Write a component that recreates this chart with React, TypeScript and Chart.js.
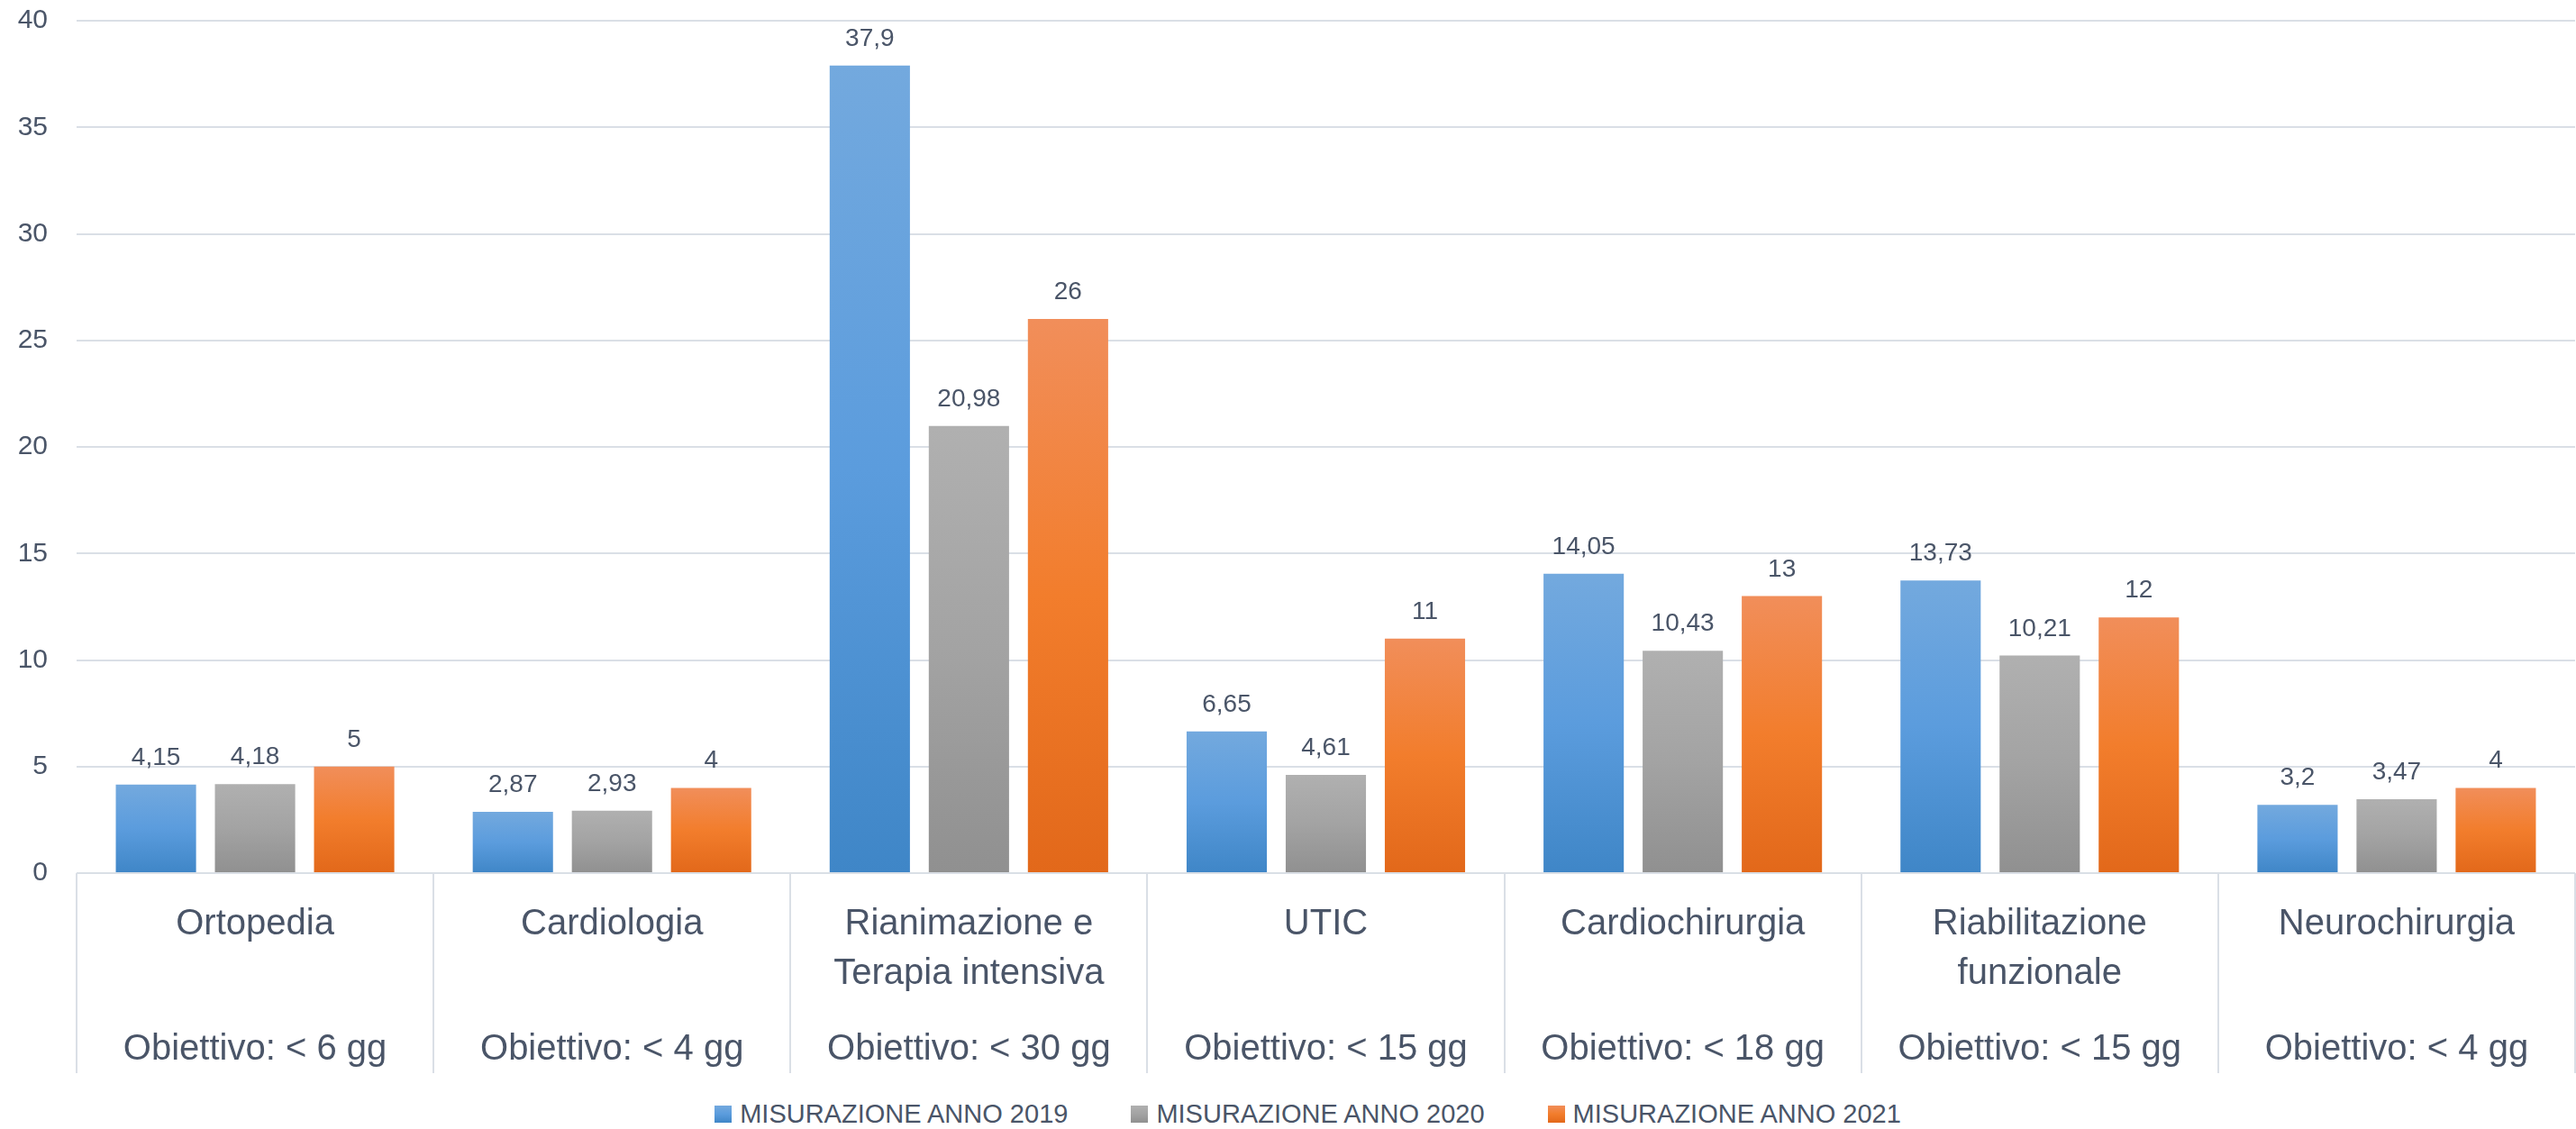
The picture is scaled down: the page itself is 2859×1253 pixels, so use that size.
import React, { useEffect, useRef } from "react";
import { Chart, registerables } from "chart.js";

Chart.register(...registerables);

// ---- data ----
const categoryLines: string[][] = [
  ["Ortopedia", ""],
  ["Cardiologia", ""],
  ["Rianimazione e", "Terapia intensiva"],
  ["UTIC", ""],
  ["Cardiochirurgia", ""],
  ["Riabilitazione", "funzionale"],
  ["Neurochirurgia", ""],
];
const goalLabels: string[] = [
  "Obiettivo: < 6 gg",
  "Obiettivo: < 4 gg",
  "Obiettivo: < 30 gg",
  "Obiettivo: < 15 gg",
  "Obiettivo: < 18 gg",
  "Obiettivo: < 15 gg",
  "Obiettivo: < 4 gg",
];
const values2019: number[] = [4.15, 2.87, 37.9, 6.65, 14.05, 13.73, 3.2];
const values2020: number[] = [4.18, 2.93, 20.98, 4.61, 10.43, 10.21, 3.47];
const values2021: number[] = [5, 4, 26, 11, 13, 12, 4];
const seriesNames: string[] = [
  "MISURAZIONE ANNO 2019",
  "MISURAZIONE ANNO 2020",
  "MISURAZIONE ANNO 2021",
];
const yMin = 0;
const yMax = 40;
const yStep = 5;

// ---- styles ----
const FONT = "'Liberation Sans', Arial, sans-serif";
const TEXT = "#4a5568";
const GRID = "#dadfe6";
const gradients: string[][] = [
  ["#73a9de", "#5b9cdd", "#3f86c7"],
  ["#b0b0b0", "#a3a3a3", "#909090"],
  ["#f18e5a", "#f27d2c", "#e2681a"],
];

const fill = (stops: string[]) => (ctx: any) => {
  const chart = ctx.chart;
  if (!chart.chartArea || ctx.type !== "data" || !chart.scales?.y) return stops[1];
  const y = chart.scales.y;
  const v = ctx.parsed ? ctx.parsed.y : ctx.raw;
  const top = y.getPixelForValue(v);
  const base = y.getPixelForValue(0);
  if (!isFinite(top) || !isFinite(base) || top === base) return stops[1];
  const g = chart.ctx.createLinearGradient(0, top, 0, base);
  g.addColorStop(0, stops[0]);
  g.addColorStop(0.5, stops[1]);
  g.addColorStop(1, stops[2]);
  return g;
};

const dividerPlugin = {
  id: "dividers",
  afterDraw(chart: any) {
    const x = chart.scales.x;
    const x2 = chart.scales.x2;
    if (!x || !x2) return;
    const n = categoryLines.length;
    const step = (x.right - x.left) / n;
    const c = chart.ctx;
    c.save();
    c.strokeStyle = GRID;
    c.lineWidth = 2;
    for (let i = 0; i <= n; i++) {
      const px = Math.round(x.left + i * step);
      c.beginPath();
      c.moveTo(px, chart.chartArea.bottom);
      c.lineTo(px, x2.bottom);
      c.stroke();
    }
    c.restore();
  },
};

const valueLabelPlugin = {
  id: "valueLabels",
  afterDatasetsDraw(chart: any) {
    const c = chart.ctx;
    c.save();
    c.font = `28px ${FONT}`;
    c.fillStyle = TEXT;
    c.textAlign = "center";
    c.textBaseline = "alphabetic";
    chart.data.datasets.forEach((ds: any, di: number) => {
      const meta = chart.getDatasetMeta(di);
      meta.data.forEach((bar: any, i: number) => {
        const v = ds.data[i];
        c.fillText(String(v).replace(".", ","), bar.x, bar.y - 22);
      });
    });
    c.restore();
  },
};

export default function App() {
  const canvasRef = useRef<HTMLCanvasElement | null>(null);

  useEffect(() => {
    if (!canvasRef.current) return;
    const chart = new Chart(canvasRef.current, {
      type: "bar",
      data: {
        labels: categoryLines,
        datasets: [values2019, values2020, values2021].map((vals, i) => ({
          label: seriesNames[i],
          data: vals,
          backgroundColor: fill(gradients[i]),
          borderWidth: 0,
          categoryPercentage: 0.833,
          barPercentage: 0.81,
        })),
      },
      options: {
        animation: false,
        responsive: true,
        maintainAspectRatio: false,
        devicePixelRatio: 1,
        layout: { padding: { top: 23, left: 20, right: 1, bottom: 9 } },
        plugins: {
          legend: { display: false },
          tooltip: { enabled: false },
        },
        scales: {
          y: {
            min: yMin,
            max: yMax,
            ticks: {
              stepSize: yStep,
              color: TEXT,
              font: { family: FONT, size: 30, lineHeight: 1.2 },
              padding: 0,
            },
            grid: {
              color: GRID,
              lineWidth: 2,
              drawTicks: true,
              tickLength: 32,
              tickColor: "rgba(0,0,0,0)",
            },
            border: { display: false },
            afterFit: (s: any) => {
              s.width = 65;
            },
          },
          x: {
            type: "category",
            offset: true,
            weight: 0,
            ticks: {
              color: TEXT,
              font: { family: FONT, size: 40, lineHeight: 1.375 },
              padding: 29,
              autoSkip: false,
              maxRotation: 0,
              minRotation: 0,
            },
            grid: { display: false, drawTicks: false },
            border: { display: false },
            afterFit: (s: any) => {
              s.height = 168;
            },
          },
          x2: {
            type: "category",
            position: "bottom",
            labels: goalLabels,
            offset: true,
            weight: 1,
            ticks: {
              color: TEXT,
              font: { family: FONT, size: 40, lineHeight: 1.375 },
              padding: 0,
              autoSkip: false,
              maxRotation: 0,
              minRotation: 0,
            },
            grid: { display: false, drawTicks: false },
            border: { display: false },
            afterFit: (s: any) => {
              s.height = 54;
            },
          },
        },
      } as any,
      plugins: [dividerPlugin, valueLabelPlugin],
    });
    return () => chart.destroy();
  }, []);

  return (
    <div
      style={{
        position: "absolute",
        left: 0,
        top: 0,
        width: 2859,
        height: 1253,
        background: "#ffffff",
        overflow: "hidden",
      }}
    >
      <div style={{ position: "absolute", left: 0, top: 0, width: 2859, height: 1200 }}>
        <canvas ref={canvasRef} />
      </div>
      <div
        style={{
          position: "absolute",
          left: 0,
          top: 1216,
          width: 2859,
          height: 40,
          boxSizing: "border-box",
          paddingLeft: 44,
          display: "flex",
          justifyContent: "center",
          alignItems: "center",
          fontFamily: FONT,
          fontSize: 29,
          color: TEXT,
          lineHeight: 1,
        }}
      >
        {seriesNames.map((name, i) => (
          <div
            key={name}
            style={{ display: "flex", alignItems: "center", marginLeft: i === 0 ? 0 : 70 }}
          >
            <span
              style={{
                display: "inline-block",
                width: 19,
                height: 19,
                marginRight: 9,
                background: `linear-gradient(to bottom, ${gradients[i][0]}, ${gradients[i][1]} 50%, ${gradients[i][2]})`,
              }}
            />
            <span>{name}</span>
          </div>
        ))}
      </div>
    </div>
  );
}
